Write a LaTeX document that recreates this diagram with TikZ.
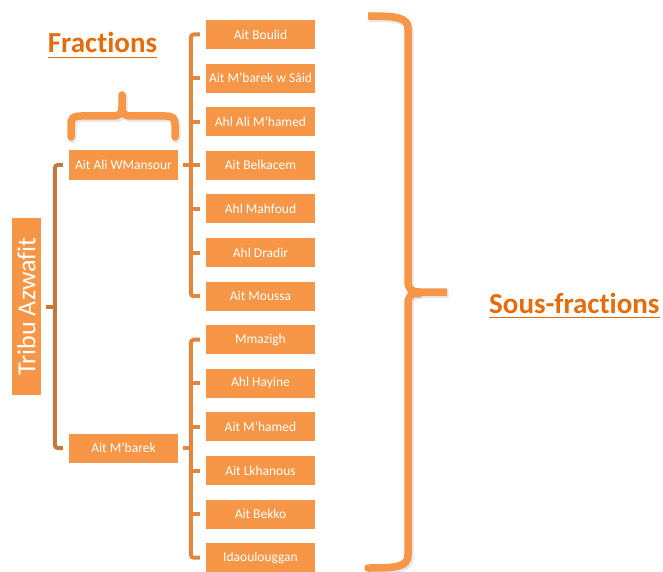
\documentclass[tikz,border=0pt]{standalone}
\usepackage{fontspec}
\setmainfont{Carlito}[Ligatures={NoCommon,NoRare,NoContextual},RawFeature={-liga;-clig;-calt;-dlig}]
\definecolor{boxor}{HTML}{F79646}
\definecolor{heador}{HTML}{E46C0A}
\definecolor{connor}{HTML}{E2853F}
\definecolor{connbr}{HTML}{C47A3E}
\begin{document}
\begin{tikzpicture}[x=1pt,y=-1pt,
  obox/.style={fill=boxor,text=white,minimum width=109pt,minimum height=29pt,inner sep=0pt,
    font=\fontsize{13.5}{15}\selectfont},
  conn/.style={draw=connor,line width=4pt,rounded corners=3pt},
  connL/.style={draw=connbr,line width=4pt,rounded corners=3pt},
  head/.style={text=heador,font=\fontsize{29}{33}\selectfont\bfseries,inner sep=0pt},
  ul/.style={draw=heador,line width=1.4pt},
  brace/.style={draw=boxor,line width=7.5pt},
  braceshadow/.style={draw=black,opacity=.10,line width=8pt,shift={(1.5,2)}}]
\useasboundingbox (0,0) rectangle (663,572);
% Tribe
\node[obox,rotate=90,minimum width=177pt,minimum height=29pt,font=\fontsize{26}{30}\selectfont] (tribu) at (26.5,306.5) {Tribu Azwafit};
% Fractions
\node[obox] (f1) at (123.5,165) {Ait Ali WMansour};
\node[obox] (f2) at (123.5,448) {Ait M'barek};
% Sous-fractions
\foreach \n/\t [count=\k from 0] in {s1/Ait Boulid,s2/Ait M'barek w Sâid,s3/Ahl Ali M'hamed,s4/Ait Belkacem,s5/Ahl Mahfoud,s6/Ahl Dradir,s7/Ait Moussa,s8/Mmazigh,s9/Ahl Hayine,s10/Ait M'hamed,s11/Ait Lkhanous,s12/Ait Bekko,s13/Idaoulouggan}
  \node[obox] (\n) at (260.5,34.5+43.6*\k) {\t};
% left bracket
\draw[connL] ([xshift=-6pt]f1.west) -- ++(-8,0) |- ([xshift=-6pt]f2.west);
\draw[connL] ([xshift=5pt]tribu.south) -- ++(9,0);
% upper group bracket
\draw[conn] ([xshift=-6pt]s1.west) -- ++(-9,0) |- ([xshift=-6pt]s7.west);
\foreach \n in {s2,s3,s4,s5,s6}
  \draw[conn] ([xshift=-6pt]\n.west) -- ++(-9,0);
\draw[conn] ([xshift=5pt]f1.east) -- ++(8,0);
% lower group bracket
\draw[conn] ([xshift=-6pt]s8.west) -- ++(-9,0) |- ([xshift=-6pt]s13.west);
\foreach \n in {s9,s10,s11,s12}
  \draw[conn] ([xshift=-6pt]\n.west) -- ++(-9,0);
\draw[conn] ([xshift=5pt]f2.east) -- ++(8,0);
% braces
\def\fracbrace{(71,137) -- (71,125) .. controls (71,118) and (73,116) .. (81,116) -- (113,116)
  .. controls (119,116) and (122,114) .. (122,107) -- (122,95)
  (175,137) -- (175,125) .. controls (175,118) and (173,116) .. (165,116) -- (131,116)
  .. controls (125,116) and (122,114) .. (122,107)}
\def\bigbraceA{(368,16) .. controls (396,16) and (408,17) .. (408,29) -- (408,281)
  .. controls (408,289) and (411,292) .. (420,292) -- (447,292)}
\def\bigbraceB{(368,568) .. controls (396,568) and (408,567) .. (408,555) -- (408,304)
  .. controls (408,296) and (411,293) .. (420,293)}
\draw[braceshadow,line cap=round] \fracbrace;
\draw[braceshadow] \bigbraceA;
\draw[braceshadow] \bigbraceB;
\draw[brace,line cap=round] \fracbrace;
\draw[brace] \bigbraceA;
\draw[brace,line cap=round] \bigbraceB;
% headings
\node[head,anchor=base] (fr) at (102.5,53) {Fractions};
\draw[ul] ([yshift=-4.5pt]fr.base west) -- ([yshift=-4.5pt]fr.base east);
\node[head,anchor=base west] (sf) at (489,313) {Sous-fractions};
\draw[ul] ([yshift=-4.5pt]sf.base west) -- ([yshift=-4.5pt]sf.base east);
\end{tikzpicture}
\end{document}
